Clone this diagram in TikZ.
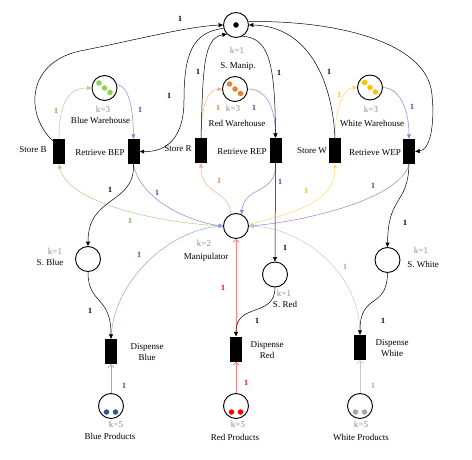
\documentclass[tikz,border=0pt]{standalone}
\usepackage{fontspec}
\setmainfont{Liberation Serif}
\usetikzlibrary{arrows.meta}
\definecolor{kgray}{HTML}{8C8C8C}
\definecolor{greenl}{HTML}{A9D18E}
\definecolor{greend}{HTML}{92D050}
\definecolor{greent}{HTML}{70AD47}
\definecolor{purl}{HTML}{9B7FD4}
\definecolor{purt}{HTML}{7030A0}
\definecolor{orl}{HTML}{F4B183}
\definecolor{ord}{HTML}{ED7D31}
\definecolor{yell}{HTML}{FFD966}
\definecolor{yed}{HTML}{FFC000}
\definecolor{bluel}{HTML}{8FAADC}
\definecolor{blued}{HTML}{2F5597}
\definecolor{redl}{HTML}{FF7C80}
\definecolor{redd}{HTML}{FF0000}
\definecolor{grayl}{HTML}{C8C8C8}
\definecolor{grayd}{HTML}{A6A6A6}
\begin{document}
\begin{tikzpicture}[x=1pt,y=-1pt,
 place/.style={circle,draw,line width=0.9pt,minimum size=25pt,inner sep=0pt},
 trans/.style={rectangle,fill=black,minimum width=12pt,minimum height=25pt,inner sep=0pt},
 lab/.style={font=\fontsize{9}{11}\selectfont,inner sep=0pt,align=center},
 klab/.style={font=\fontsize{9}{11}\selectfont,text=kgray,inner sep=0pt},
 w/.style={font=\bfseries\fontsize{8}{9}\selectfont,inner sep=0pt},
 arc/.style={line width=0.5pt,-{Triangle[length=4.5pt,width=4pt]}},
 parc/.style={line width=0.6pt,-{Straight Barb[length=3pt,width=6pt]}},
 tok/.style={circle,inner sep=0pt,minimum size=5.5pt}
]
\fill[white] (0,0) rectangle (472,460);
\useasboundingbox (0,0) rectangle (472,460);

% places
\node[place] (sm) at (236,25) {};
\node[place] (bw) at (104.5,88) {};
\node[place] (rw) at (235,89) {};
\node[place] (ww) at (370,87.5) {};
\node[place] (man) at (236,226) {};
\node[place] (sb) at (88,259) {};
\node[place] (sr) at (275,274.5) {};
\node[place] (sw) at (387.5,260) {};
\node[place] (bp) at (111,406) {};
\node[place] (rp) at (236,406) {};
\node[place] (wp) at (360,406) {};

% transitions
\node[trans] (stb) at (59,151.5) {};
\node[trans] (rbep) at (133.5,151.5) {};
\node[trans] (str) at (201,150.5) {};
\node[trans] (rrep) at (275.5,150.5) {};
\node[trans] (stw) at (335,151) {};
\node[trans] (rwep) at (409,151.5) {};
\node[trans] (db) at (111,351.5) {};
\node[trans] (dr) at (236,349) {};
\node[trans] (dw) at (360,347.5) {};

% tokens
\node[tok,fill=black] (t0) at (236,25) {};
\node[tok,fill=greend] (tb1) at (99,83) {};
\node[tok,fill=greend] (tb2) at (104.5,88) {};
\node[tok,fill=greend] (tb3) at (110,92.5) {};
\node[tok,fill=ord] (tr1) at (229.5,84) {};
\node[tok,fill=ord] (tr2) at (235,89) {};
\node[tok,fill=ord] (tr3) at (240.5,93.5) {};
\node[tok,fill=yed] (tw1) at (364.5,82.5) {};
\node[tok,fill=yed] (tw2) at (370,87.5) {};
\node[tok,fill=yed] (tw3) at (375.5,92) {};
\node[tok,fill=blued] (pb1) at (106.5,412) {};
\node[tok,fill=blued] (pb2) at (115.5,412) {};
\node[tok,fill=redd] (pr1) at (231.5,412) {};
\node[tok,fill=redd] (pr2) at (240.5,412) {};
\node[tok,fill=grayd] (pw1) at (355.5,412) {};
\node[tok,fill=grayd] (pw2) at (364.5,412) {};

% coloured arcs
\draw[arc,greenl] (stb.north) .. controls (59,100) and (70,88) .. (bw.west);
\draw[arc,greenl] (man.west) .. controls (158,223) and (68,203) .. (stb.south);
\draw[arc,purl] (bw.15) .. controls (128,86) and (133,105) .. (rbep.north);
\draw[arc,purl] (rbep.south) .. controls (140,200) and (190,222) .. (man.west);
\draw[arc,purl] (rw.east) .. controls (265,89) and (275,105) .. (rrep.north);
\draw[arc,purl] (rrep.south) .. controls (277,195) and (245,185) .. (man.65);
\draw[arc,purl] (ww.east) .. controls (400,88) and (409,110) .. (rwep.north);
\draw[arc,purl] (rwep.south) .. controls (400,200) and (300,222) .. (man.east);
\draw[arc,orl] (str.north) .. controls (201,105) and (208,90) .. (rw.west);
\draw[arc,orl] (man.115) .. controls (230,190) and (201,195) .. (str.south);
\draw[arc,yell] (stw.north) .. controls (335,105) and (345,88) .. (ww.west);
\draw[arc,yell] (man.8) .. controls (300,212) and (335,200) .. (stw.south);
\draw[arc,bluel] (db.north) .. controls (113,280) and (170,230) .. (man.west);
\draw[parc,bluel] (bp.north) -- (db.south);
\draw[parc,redl] (dr.north) -- (man.south);
\draw[parc,redl] (rp.north) -- (dr.south);
\draw[arc,grayl] (dw.north) .. controls (360,270) and (300,228) .. (man.east);
\draw[parc,grayl] (wp.north) -- (dw.south);

% black arcs
\draw[arc] (stb.120) .. controls (25,115) and (25,60) .. (85,50) .. controls (135,40) and (190,26) .. (sm.west);
\draw[arc] (str.north) .. controls (203,70) and (203,38) .. (sm.225);
\draw[arc] (sm.195) .. controls (192,32) and (184,55) .. (184,100) .. controls (184,140) and (165,152) .. (rbep.east);
\draw[arc] (sm.-60) .. controls (268,38) and (275,60) .. (rrep.north);
\draw[arc] (stw.north) .. controls (332,75) and (305,26) .. (sm.east);
\draw[arc] (sm.15) .. controls (330,20) and (428,40) .. (432,95) .. controls (435,125) and (430,150) .. (rwep.east);
\draw[arc] (rbep.south) .. controls (135,205) and (88,195) .. (sb.north);
\draw[arc] (rrep.south) -- (sr.north);
\draw[arc] (rwep.south) .. controls (408,205) and (388,195) .. (sw.north);
\draw[arc] (sb.south) .. controls (88,305) and (111,295) .. (db.north);
\draw[arc] (sr.south) .. controls (275,318) and (236,302) .. (dr.north);
\draw[arc] (sw.south) .. controls (387,310) and (360,292) .. (dw.north);

% weights
\node[w] (w1) at (180,19) {1};
\node[w] (w2) at (198,72) {1};
\node[w] (w3) at (169,96) {1};
\node[w] (w4) at (279,73) {1};
\node[w] (w5) at (329,72) {1};
\node[w] (w6) at (110,190) {1};
\node[w] (w7) at (285,248) {1};
\node[w] (w8) at (405,223) {1};
\node[w] (w9) at (90,311) {1};
\node[w] (w10) at (257,321) {1};
\node[w] (w11) at (383,321) {1};
\node[w,text=greent] (g1) at (56,111) {1};
\node[w,text=greent] (g2) at (130,221) {1};
\node[w,text=purt] (p1) at (140,110) {1};
\node[w,text=purt] (p2) at (157,193) {1};
\node[w,text=purt] (p3) at (254,108) {1};
\node[w,text=purt] (p4) at (280,182) {1};
\node[w,text=purt] (p5) at (412,107) {1};
\node[w,text=purt] (p6) at (373,186) {1};
\node[w,text=ord] (o1) at (218,108) {1};
\node[w,text=ord] (o2) at (219,181) {1};
\node[w,text=yed] (y1) at (339,95) {1};
\node[w,text=yed] (y2) at (306,191) {1};
\node[w,text=blued] (b1) at (139,255) {1};
\node[w,text=blued] (b2) at (124,386) {1};
\node[w,text=redd] (r1) at (223,288) {1};
\node[w,text=redd] (r2) at (246,383) {1};
\node[w,text=grayd] (x1) at (345,267) {1};
\node[w,text=grayd] (x2) at (373,386) {1};

% labels
\node[klab] (ksm) at (237,50) {k=1};
\node[lab] (tsm) at (238,66) {S. Manip.};
\node[klab] (kbw) at (103,109) {k=3};
\node[lab] (tbw) at (100.5,120) {Blue Warehouse};
\node[klab] (krw) at (233,108) {k=3};
\node[lab] (trw) at (237,123) {Red Warehouse};
\node[klab] (kww) at (371,109) {k=3};
\node[lab] (tww) at (372,123) {White Warehouse};
\node[klab] (kman) at (204,243) {k=2};
\node[lab] (tman) at (206,257) {Manipulator};
\node[klab] (ksb) at (55,251) {k=1};
\node[lab] (tsb) at (50,262) {S. Blue};
\node[klab] (ksr) at (284,293) {k=1};
\node[lab] (tsr) at (285,304) {S. Red};
\node[klab] (ksw) at (421,250) {k=1};
\node[lab] (tsw) at (423,264) {S. White};
\node[klab] (kbp) at (116,424) {k=5};
\node[lab] (tbp) at (110,436) {Blue Products};
\node[klab] (krp) at (238,424) {k=5};
\node[lab] (trp) at (235,437) {Red Products};
\node[klab] (kwp) at (361,424) {k=5};
\node[lab] (twp) at (361,437) {White Products};

\node[lab] (lstb) at (33,150) {Store B};
\node[lab] (lrbep) at (100,153) {Retrieve BEP};
\node[lab] (lstr) at (178,149) {Store R};
\node[lab] (lrrep) at (242,152) {Retrieve REP};
\node[lab] (lstw) at (312,151) {Store W};
\node[lab] (lrwep) at (375,153) {Retrieve WEP};
\node[lab] (ldb) at (147,352) {Dispense\\Blue};
\node[lab] (ldr) at (267,350) {Dispense\\Red};
\node[lab] (ldw) at (392,348) {Dispense\\White};
\end{tikzpicture}
\end{document}
